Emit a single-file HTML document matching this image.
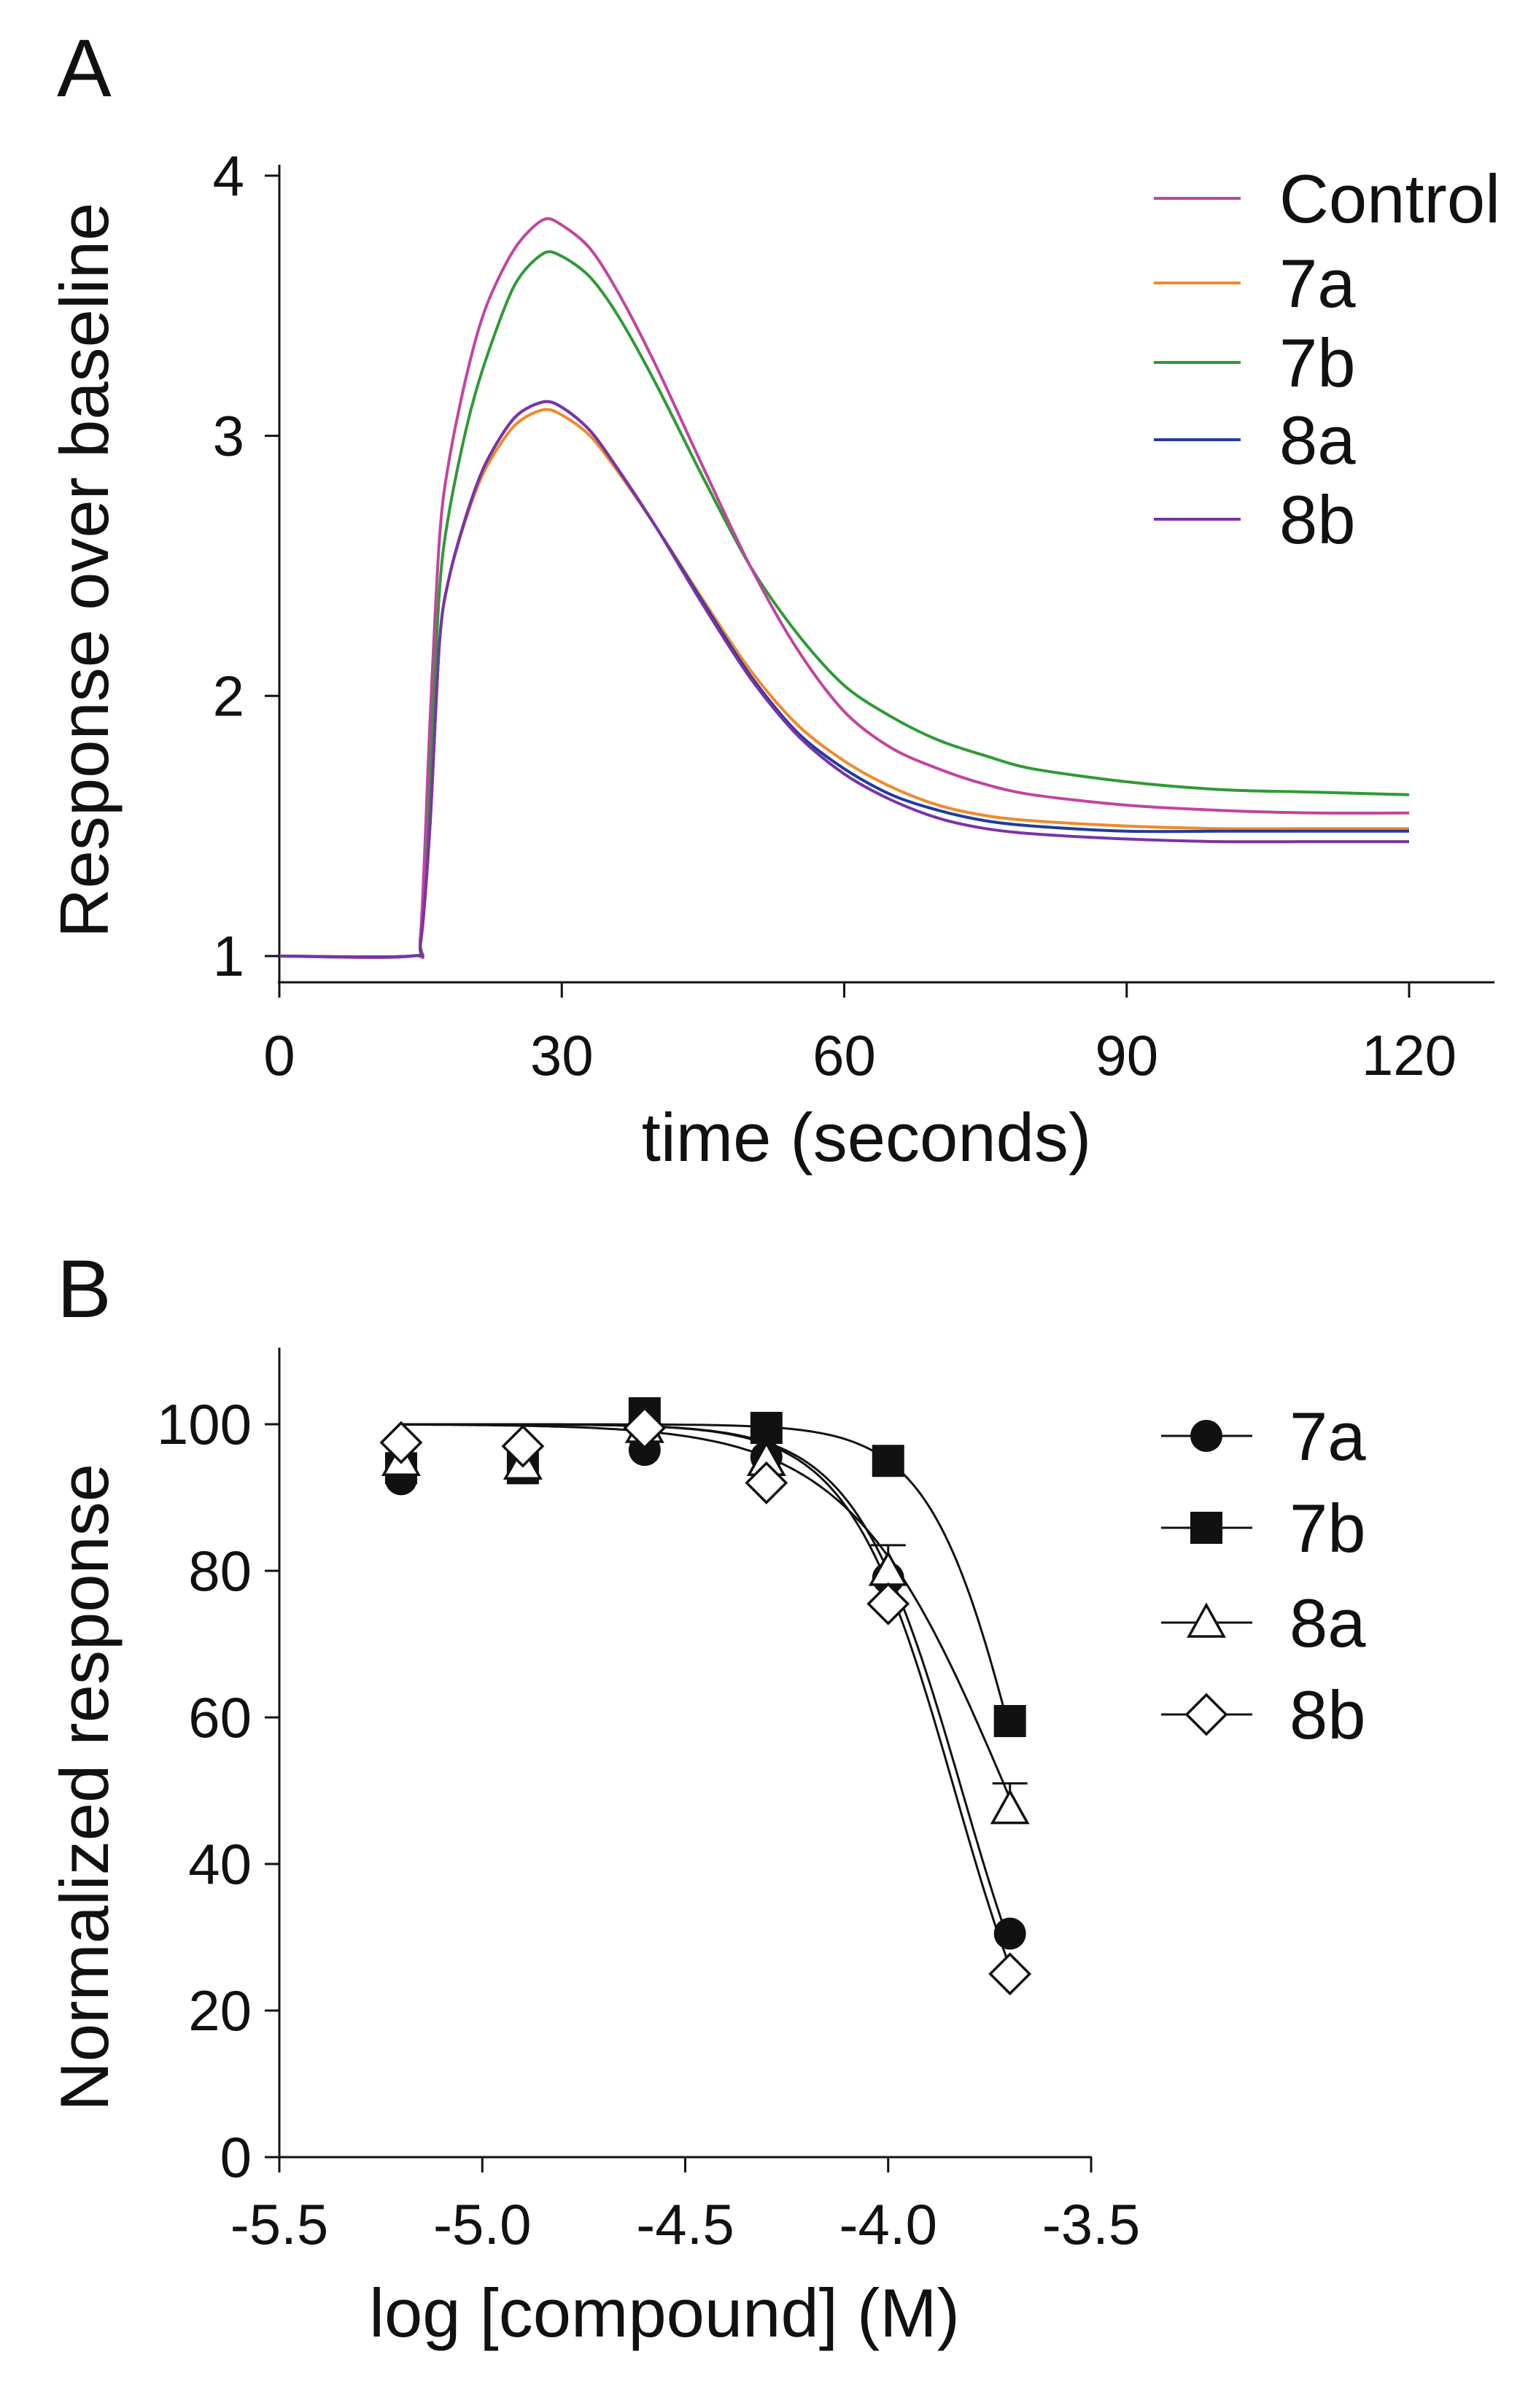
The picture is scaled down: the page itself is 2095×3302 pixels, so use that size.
<!DOCTYPE html>
<html><head><meta charset="utf-8"><style>
html,body{margin:0;padding:0;background:#fff}
svg{display:block}
text{font-family:"Liberation Sans",Arial,sans-serif;fill:#111}
</style></head><body>
<svg id="fig" width="2095" height="3302" viewBox="0 0 2095 3302" xmlns="http://www.w3.org/2000/svg">
<rect width="2095" height="3302" fill="#fff"/>
<g id="pa"></g>
<g id="pb"></g>
</svg>
<script>
// ---- Panel A data ----
const aTimes = [0,14,15,16,17,18,20,22,25,28,30,33,36,40,45,50,55,60,65,70,75,80,90,100,110,120];
const aControl = [1,1,1.08,1.9,2.6,2.9,3.25,3.5,3.72,3.83,3.81,3.72,3.55,3.27,2.88,2.5,2.18,1.94,1.8,1.72,1.66,1.62,1.58,1.56,1.55,1.55];
const a7a = [1,1,1.05,1.5,2.2,2.45,2.7,2.88,3.04,3.1,3.08,3.0,2.86,2.65,2.37,2.1,1.89,1.75,1.65,1.58,1.54,1.52,1.5,1.49,1.49,1.49];
const a7b = [1,1,1.08,1.7,2.4,2.7,3.05,3.3,3.58,3.7,3.69,3.61,3.46,3.2,2.84,2.5,2.24,2.04,1.92,1.83,1.77,1.72,1.67,1.64,1.63,1.62];
const a8a = [1,1,1.05,1.5,2.2,2.45,2.71,2.9,3.07,3.13,3.11,3.02,2.87,2.65,2.36,2.08,1.86,1.72,1.62,1.56,1.52,1.5,1.48,1.48,1.48,1.48];
const a8b = [1,1,1.05,1.5,2.2,2.45,2.71,2.9,3.07,3.13,3.11,3.02,2.87,2.65,2.35,2.07,1.85,1.7,1.6,1.53,1.49,1.47,1.45,1.44,1.44,1.44];
const aSeriesNames = ["Control","7a","7b","8a","8b"];
const aXTicks = [0,30,60,90,120];
const aYTicks = [1,2,3,4];
// ---- Panel B data ----
const bX = [-5.2,-4.9,-4.6,-4.3,-4.0,-3.7];
const b7a = [92.5,94,96.5,95.5,79,30.5];
const b7b = [94,94,101.5,99.5,95,59.5];
const b8a = [95,94.5,99.5,95,80,47.5];
const b8aErr = [0,0,0,0,3.5,3.5];
const b8b = [97.5,97,99.5,92,75.5,25];
const bLogIC50 = [-3.818,-3.663,-3.708,-3.836];
const bHill = [3.3,3.8,2.25,3.35];
const bNames = ["7a","7b","8a","8b"];
const bXTicks = [-5.5,-5.0,-4.5,-4.0,-3.5];
const bYTicks = [0,20,40,60,80,100];

const NS="http://www.w3.org/2000/svg";
function mk(parent,tag,attrs,txt){const e=document.createElementNS(NS,tag);for(const k in attrs)e.setAttribute(k,attrs[k]);if(txt!==undefined)e.textContent=txt;parent.appendChild(e);return e;}
function smooth(pts){
  let d='M'+pts[0][0].toFixed(1)+','+pts[0][1].toFixed(1);
  for(let i=0;i<pts.length-1;i++){
    const p0=pts[Math.max(0,i-1)],p1=pts[i],p2=pts[i+1],p3=pts[Math.min(pts.length-1,i+2)];
    const t=0.15;
    const c1=[p1[0]+(p2[0]-p0[0])*t,p1[1]+(p2[1]-p0[1])*t];
    const c2=[p2[0]-(p3[0]-p1[0])*t,p2[1]-(p3[1]-p1[1])*t];
    d+='C'+c1[0].toFixed(1)+','+c1[1].toFixed(1)+' '+c2[0].toFixed(1)+','+c2[1].toFixed(1)+' '+p2[0].toFixed(1)+','+p2[1].toFixed(1);
  }
  return d;
}

// Panel A
const pa=document.getElementById('pa');
const ax=t=>383+(t/120)*(1932-383);
const ay=v=>1311-(v-1)*356.7;
let e;
e=mk(pa,'text',{x:78,y:132,'font-size':112},'A');


e=mk(pa,'line',{x1:383,y1:226,x2:383,y2:1349,stroke:'#111','stroke-width':3});


e=mk(pa,'line',{x1:381,y1:1347,x2:2049,y2:1347,stroke:'#111','stroke-width':3});


aYTicks.forEach(v=>{
  mk(pa,'line',{x1:363,y1:ay(v),x2:383,y2:ay(v),stroke:'#111','stroke-width':3});
  e=mk(pa,'text',{x:335,y:ay(v)+27,'font-size':78,'text-anchor':'end'},String(v));
  
  
});
aXTicks.forEach(v=>{
  mk(pa,'line',{x1:ax(v),y1:1347,x2:ax(v),y2:1368,stroke:'#111','stroke-width':3});
  e=mk(pa,'text',{x:ax(v),y:1474,'font-size':78,'text-anchor':'middle'},String(v));
  
  
});
e=mk(pa,'text',{x:1188,y:1592,'font-size':94,'text-anchor':'middle'},'time (seconds)');


e=mk(pa,'text',{x:0,y:0,'font-size':94,'text-anchor':'middle',transform:'translate(148,782) rotate(-90)'},'Response over baseline');


const aSeries=[aControl,a7a,a7b,a8a,a8b];
const aColors=['#c2449f','#f0892a','#2f9a35','#1f3c9c','#7a33a8'];
const drawOrder=[2,0,1,3,4];
drawOrder.forEach(i=>{
  const pts=aTimes.map((t,j)=>[ax(t),ay(aSeries[i][j])]);
  e=mk(pa,'path',{d:smooth(pts),fill:'none',stroke:aColors[i],'stroke-width':4,'stroke-linejoin':'round'});
  
  
});
const aLegY=[272,388,497,603,712];
aSeriesNames.forEach((n,i)=>{
  e=mk(pa,'line',{x1:1582,y1:aLegY[i],x2:1701,y2:aLegY[i],stroke:aColors[i],'stroke-width':4});
  
  
  e=mk(pa,'text',{x:1754,y:aLegY[i]+33,'font-size':94},n);
  
  
});

// Panel B
const pb=document.getElementById('pb');
const bx=v=>383+(v+5.5)*556.5;
const by=v=>2958-v*10.05;
e=mk(pb,'text',{x:78,y:1806,'font-size':112},'B');


e=mk(pb,'line',{x1:383,y1:1848,x2:383,y2:2960,stroke:'#111','stroke-width':3});


e=mk(pb,'line',{x1:381,y1:2958,x2:1497,y2:2958,stroke:'#111','stroke-width':3});


bYTicks.forEach(v=>{
  mk(pb,'line',{x1:363,y1:by(v),x2:383,y2:by(v),stroke:'#111','stroke-width':3});
  e=mk(pb,'text',{x:345,y:by(v)+27,'font-size':78,'text-anchor':'end'},String(v));
  
  
});
bXTicks.forEach(v=>{
  mk(pb,'line',{x1:bx(v),y1:2958,x2:bx(v),y2:2979,stroke:'#111','stroke-width':3});
  e=mk(pb,'text',{x:bx(v),y:3077,'font-size':78,'text-anchor':'middle'},v.toFixed(1));
  
  
});
e=mk(pb,'text',{x:911,y:3204,'font-size':94,'text-anchor':'middle'},'log [compound] (M)');


e=mk(pb,'text',{x:0,y:0,'font-size':94,'text-anchor':'middle',transform:'translate(148,2451) rotate(-90)'},'Normalized response');


// fitted curves
bNames.forEach((n,i)=>{
  let d='';
  for(let k=0;k<=150;k++){const x=-5.2+k*0.01;const y=100/(1+Math.pow(10,(x-bLogIC50[i])*bHill[i]));d+=(k?'L':'M')+bx(x).toFixed(1)+','+by(y).toFixed(1);}
  e=mk(pb,'path',{d:d,fill:'none',stroke:'#111','stroke-width':3});
  
  
});
// error bars 8a
bX.forEach((x,j)=>{
  if(b8aErr[j]>0){
    const yt=by(b8a[j]+b8aErr[j]);
    e=mk(pb,'path',{d:`M${bx(x)},${by(b8a[j])}L${bx(x)},${yt}M${bx(x)-24},${yt}L${bx(x)+24},${yt}`,stroke:'#111','stroke-width':3,fill:'none'});
    
    
  }
});
function marker(g,type,cx,cy){
  if(type===0) return mk(g,'circle',{cx:cx,cy:cy,r:22,fill:'#111'});
  if(type===1) return mk(g,'rect',{x:cx-22,y:cy-22,width:44,height:44,fill:'#111'});
  if(type===2) return mk(g,'path',{d:`M${cx},${cy-24}L${cx+24},${cy+19}L${cx-24},${cy+19}Z`,fill:'#fff',stroke:'#111','stroke-width':3.5});
  return mk(g,'path',{d:`M${cx},${cy-27}L${cx+27},${cy}L${cx},${cy+27}L${cx-27},${cy}Z`,fill:'#fff',stroke:'#111','stroke-width':3.5});
}
const bSeries=[b7a,b7b,b8a,b8b];
bSeries.forEach((s,i)=>{
  bX.forEach((x,j)=>{
    e=marker(pb,i,bx(x),by(s[j]));
    
    
  });
});
const bLegY=[1969,2095,2225,2351];
bNames.forEach((n,i)=>{
  e=mk(pb,'line',{x1:1592,y1:bLegY[i],x2:1717,y2:bLegY[i],stroke:'#111','stroke-width':3});
  
  
  e=marker(pb,i,1654,bLegY[i]);
  
  
  e=mk(pb,'text',{x:1768,y:bLegY[i]+33,'font-size':94},n);
  
  
});
</script>
</body></html>
